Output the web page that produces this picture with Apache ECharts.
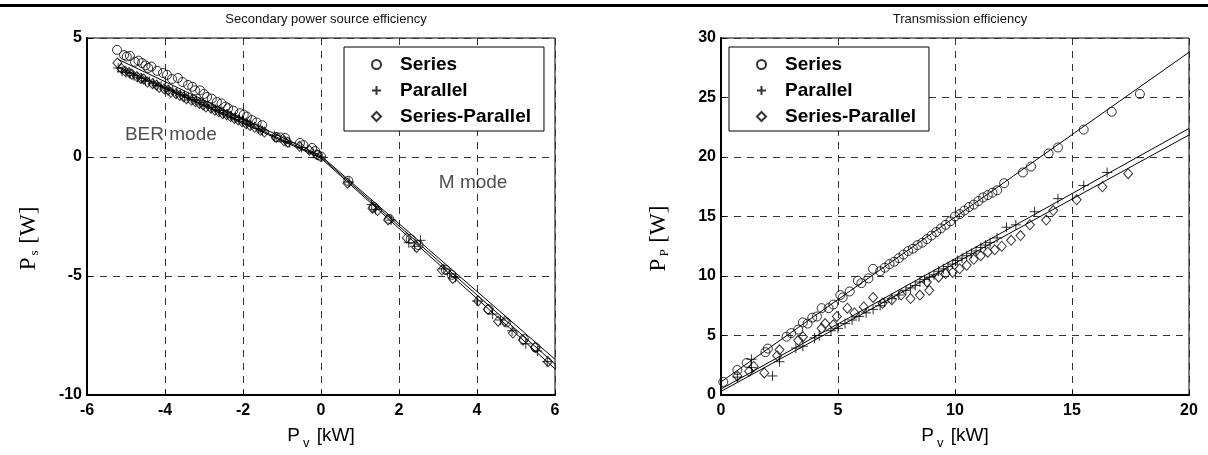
<!DOCTYPE html>
<html>
<head>
<meta charset="utf-8">
<script src="https://cdn.jsdelivr.net/npm/echarts@6/dist/echarts.min.js"></script>
<style>
  html, body { margin: 0; padding: 0; background: #fff; }
  #main { width: 1208px; height: 455px; }
</style>
</head>
<body>
<div id="main"></div>
<script>
// ---- left panel: secondary power source efficiency ----
var secSeries = [
  [-5.23,4.5],[-5.05,4.28],[-4.98,4.22],[-4.9,4.25],[-4.77,4.0],[-4.68,4.05],[-4.59,3.95],[-4.5,3.85],
  [-4.43,3.74],[-4.35,3.8],[-4.2,3.62],[-4.05,3.53],[-3.95,3.45],[-3.82,3.28],[-3.67,3.32],[-3.55,3.15],
  [-3.41,3.03],[-3.3,2.95],[-3.23,2.8],[-3.1,2.8],[-3.0,2.65],[-2.92,2.52],[-2.8,2.45],[-2.67,2.31],
  [-2.55,2.25],[-2.45,2.12],[-2.38,2.05],[-2.25,1.95],[-2.08,1.84],[-1.98,1.78],[-1.9,1.7],[-1.77,1.55],
  [-1.65,1.45],[-1.51,1.34],[-1.15,0.84],[-1.05,0.82],[-0.92,0.8],[-0.54,0.59],[-0.45,0.5],[-0.23,0.38],
  [-0.15,0.25],[-0.08,0.08],[0,0.02],
  [0.7,-1.0],[1.35,-2.1],[1.75,-2.6],[2.3,-3.45],[2.5,-3.7],[3.2,-4.75],[3.35,-4.95],[4.3,-6.4],
  [4.75,-6.95],[5.2,-7.65],[5.5,-8.0]
];
var secParallel = [
  [-5.2,3.74],[-5.1,3.6],[-5.0,3.55],[-4.9,3.5],[-4.8,3.42],[-4.7,3.35],[-4.6,3.3],[-4.5,3.2],
  [-4.4,3.18],[-4.3,3.1],[-4.2,3.0],[-4.1,2.98],[-4.0,2.9],[-3.9,2.82],[-3.8,2.78],[-3.7,2.7],
  [-3.6,2.62],[-3.5,2.58],[-3.4,2.5],[-3.3,2.42],[-3.2,2.38],[-3.1,2.3],[-3.0,2.2],[-2.9,2.15],
  [-2.8,2.08],[-2.7,2.0],[-2.6,1.95],[-2.5,1.85],[-2.4,1.8],[-2.3,1.72],[-2.2,1.65],[-2.1,1.58],
  [-2.0,1.5],[-1.9,1.42],[-1.8,1.36],[-1.6,1.2],[-1.5,1.1],[-1.2,0.9],[-0.9,0.65],[-0.8,0.6],
  [-0.5,0.4],[-0.2,0.15],[0,0],
  [0.72,-1.05],[1.3,-2.0],[1.4,-2.2],[1.8,-2.65],[2.25,-3.6],[2.4,-3.75],[2.55,-3.5],[3.15,-4.7],
  [3.3,-4.9],[3.45,-5.05],[4.0,-6.05],[4.4,-6.6],[4.6,-6.85],[4.9,-7.3],[5.25,-7.85],[5.55,-8.15],[5.8,-8.6]
];
var secSeriesParallel = [
  [-5.22,3.95],[-5.12,3.72],[-5.02,3.6],[-4.92,3.55],[-4.85,3.48],[-4.72,3.38],[-4.62,3.3],[-4.55,3.28],
  [-4.45,3.15],[-4.32,3.08],[-4.22,3.02],[-4.15,2.92],[-4.02,2.86],[-3.92,2.8],[-3.85,2.72],[-3.72,2.66],
  [-3.62,2.58],[-3.52,2.52],[-3.45,2.45],[-3.32,2.38],[-3.22,2.32],[-3.12,2.25],[-3.02,2.18],[-2.95,2.1],
  [-2.82,2.05],[-2.72,1.96],[-2.62,1.9],[-2.52,1.82],[-2.42,1.78],[-2.32,1.7],[-2.22,1.62],[-2.12,1.55],
  [-2.02,1.48],[-1.92,1.4],[-1.82,1.32],[-1.7,1.25],[-1.55,1.12],[-1.45,1.05],[-1.15,0.82],[-0.95,0.68],
  [-0.85,0.62],[-0.55,0.45],[-0.3,0.28],[-0.1,0.1],
  [0.68,-1.1],[1.32,-2.15],[1.45,-2.25],[1.72,-2.65],[2.2,-3.4],[2.45,-3.8],[3.1,-4.75],[3.38,-5.1],
  [4.03,-6.05],[4.28,-6.4],[4.54,-6.9],[4.72,-6.9],[4.92,-7.4],[5.18,-7.7],[5.49,-8.0],[5.82,-8.6]
];
// fitted lines (piecewise, knee at 0)
var secFitSeries = [[-5.2,4.1],[0,0.05],[6,-8.5]];
var secFitParallel = [[-5.2,3.8],[0,0],[6,-8.7]];
var secFitSP = [[-5.2,3.75],[0,-0.05],[6,-8.9]];
var secNotes = [
  {name: 'BER mode', value: [-3.85, 0.92]},
  {name: 'M mode', value: [3.9, -1.1]}
];

// ---- right panel: transmission efficiency ----
var trSeries = [
  [0.1,1.1],[0.7,2.1],[1.1,2.7],[1.9,3.6],[2.0,3.9],[2.8,4.9],[3.0,5.2],[3.3,5.5],[3.5,6.1],[3.7,6.0],
  [3.9,6.5],[4.1,6.6],[4.3,7.3],[4.6,7.3],[4.8,7.6],[5.1,8.4],[5.2,8.2],[5.5,8.7],[5.85,9.6],[6.0,9.4],
  [6.3,9.8],[6.5,10.6],[6.8,10.4],[7.0,10.7],[7.2,11.0],[7.4,11.2],[7.6,11.5],[7.8,11.8],[8.0,12.1],
  [8.2,12.3],[8.4,12.6],[8.6,12.8],[8.8,13.1],[9.0,13.4],[9.2,13.7],[9.4,14.0],[9.6,14.3],[9.8,14.6],
  [10.0,15.0],[10.2,15.2],[10.4,15.5],[10.6,15.8],[10.8,16.0],[11.0,16.3],[11.2,16.6],[11.4,16.8],
  [11.6,17.0],[11.8,17.2],[12.1,17.8],[12.9,18.7],[13.25,19.2],[14.0,20.3],[14.4,20.8],[15.5,22.3],
  [16.7,23.8],[17.9,25.3]
];
var trParallel = [
  [0.7,1.5],[1.3,2.3],[1.3,3.0],[2.2,1.6],[2.5,2.8],[3.2,3.95],[3.5,4.1],[4.0,4.8],[4.2,5.0],[4.7,5.4],
  [5.0,5.6],[5.3,6.0],[5.6,6.3],[5.9,6.6],[6.2,6.9],[6.5,7.2],[6.8,7.5],[7.0,7.8],[7.3,8.1],[7.6,8.4],
  [7.9,8.8],[8.1,9.0],[8.3,9.2],[8.5,9.5],[8.7,9.7],[8.9,9.9],[9.1,10.1],[9.3,10.4],[9.5,10.6],[9.7,10.8],
  [9.9,11.0],[10.1,11.3],[10.3,11.5],[10.5,11.7],[10.7,11.9],[10.9,12.1],[11.1,12.4],[11.3,12.6],
  [11.5,12.8],[11.8,13.2],[12.2,14.1],[12.6,14.3],[13.4,15.4],[14.4,16.5],[15.5,17.6],[16.5,18.7]
];
var trSeriesParallel = [
  [0.7,1.6],[1.2,2.0],[1.4,2.4],[1.85,1.85],[2.4,3.3],[2.5,3.8],[3.3,4.6],[3.5,4.9],[4.3,5.6],[4.45,6.0],
  [4.8,5.9],[4.95,6.6],[5.4,7.3],[5.7,6.9],[6.1,7.4],[6.5,8.2],[6.9,7.7],[7.3,8.0],[7.7,8.4],[8.1,8.1],
  [8.5,8.4],[8.8,9.5],[8.9,8.8],[9.3,9.9],[9.6,10.2],[9.9,10.3],[10.2,10.6],[10.5,10.9],[10.8,11.4],
  [11.1,11.7],[11.4,12.0],[11.7,12.2],[12.0,12.5],[12.4,13.0],[12.8,13.4],[13.2,14.3],[13.9,14.7],
  [14.2,15.5],[15.2,16.4],[16.3,17.5],[17.4,18.6]
];
var trFitSeries = [[0,1.1],[20,28.8]];
var trFitParallel = [[0,0.5],[20,22.4]];
var trFitSP = [[0,0.3],[20,21.85]];

var legendNames = ['Series', 'Parallel', 'Series-Parallel'];
var plusPath = 'path://M5,0L5,10M0,5L10,5';

var chart = echarts.init(document.getElementById('main'));

var sans = 'Liberation Sans, Arial, sans-serif';
var serif = 'Liberation Serif, Times New Roman, serif';

function markStyle() {
  return { color: 'rgba(0,0,0,0)', borderColor: '#000', borderWidth: 1 };
}

function scatter(name, data, idx, symbol, size) {
  return {
    type: 'scatter', name: name, data: data,
    xAxisIndex: idx, yAxisIndex: idx,
    symbol: symbol, symbolSize: size,
    itemStyle: markStyle(),
    emphasis: { disabled: true },
    silent: true, z: 3
  };
}

function fit(data, idx) {
  return {
    type: 'line', data: data, xAxisIndex: idx, yAxisIndex: idx,
    showSymbol: false, silent: true, z: 2,
    lineStyle: { color: '#000', width: 1 }
  };
}

function xAxis(idx, min, max, interval) {
  return {
    type: 'value', gridIndex: idx, min: min, max: max, interval: interval,
    axisLine: { onZero: false, lineStyle: { color: '#000', width: 2 } },
    axisTick: { inside: true, length: 5, lineStyle: { color: '#000' } },
    axisLabel: { color: '#000', fontFamily: sans, fontWeight: 'bold', fontSize: 16, margin: 8 },
    splitLine: { lineStyle: { color: '#333', type: [7, 6], width: 1 } },
    name: '{a|P}{s|v}{a| [kW]}', nameLocation: 'middle', nameGap: 26,
    nameTextStyle: {
      rich: {
        a: { fontFamily: sans, fontSize: 19, color: '#000' },
        s: { fontFamily: sans, fontSize: 13, color: '#000', padding: [16, 2, 0, 3] }
      }
    }
  };
}

function yAxis(idx, min, max, interval, sub, gap) {
  return {
    type: 'value', gridIndex: idx, min: min, max: max, interval: interval,
    axisLine: { onZero: false, lineStyle: { color: '#000', width: 2 } },
    axisTick: { inside: true, length: 5, lineStyle: { color: '#000' } },
    axisLabel: { color: '#000', fontFamily: sans, fontWeight: 'bold', fontSize: 16, margin: 5 },
    splitLine: { lineStyle: { color: '#333', type: [7, 6], width: 1 } },
    name: '{a|P}{s|' + sub + '}{a| [W]}', nameLocation: 'middle', nameGap: gap,
    nameTextStyle: {
      padding: [0, 44, 0, 0],
      rich: {
        a: { fontFamily: serif, fontSize: 23, color: '#000' },
        s: { fontFamily: serif, fontSize: 13, color: '#000', padding: [12, 1, 0, 2] }
      }
    }
  };
}

function legend(left) {
  return {
    left: left, top: 47, orient: 'vertical', selectedMode: false,
    backgroundColor: '#fff', borderColor: '#000', borderWidth: 1,
    padding: [8, 13, 5, 27], itemGap: 7, itemWidth: 9, itemHeight: 9,
    data: [
      { name: legendNames[0], icon: 'circle' },
      { name: legendNames[1], icon: plusPath },
      { name: legendNames[2], icon: 'diamond' }
    ],
    textStyle: { fontFamily: sans, fontWeight: 'bold', fontSize: 19, color: '#000', padding: [0, 0, 0, 14], lineHeight: 18 }
  };
}

var option = {
  backgroundColor: '#fff',
  animation: false,
  title: [
    { text: 'Secondary power source efficiency', left: 321, top: 8, textAlign: 'center',
      textStyle: { fontFamily: sans, fontWeight: 'normal', fontSize: 13, color: '#111' } },
    { text: 'Transmission efficiency', left: 955, top: 8, textAlign: 'center',
      textStyle: { fontFamily: sans, fontWeight: 'normal', fontSize: 13, color: '#111' } }
  ],
  graphic: [
    { type: 'rect', left: 0, top: 4, shape: { width: 1208, height: 3 }, style: { fill: '#000' } }
  ],
  grid: [
    { left: 87, top: 38, width: 468, height: 357, show: true, borderColor: '#000', borderWidth: 1 },
    { left: 721, top: 38, width: 468, height: 357, show: true, borderColor: '#000', borderWidth: 1 }
  ],
  xAxis: [ xAxis(0, -6, 6, 2), xAxis(1, 0, 20, 5) ],
  yAxis: [ yAxis(0, -10, 5, 5, 's', 46), yAxis(1, 0, 30, 5, 'P', 50) ],
  legend: [ legend(344), legend(729) ],
  series: [
    fit(secFitSeries, 0), fit(secFitParallel, 0), fit(secFitSP, 0),
    scatter(legendNames[0], secSeries, 0, 'circle', 9),
    scatter(legendNames[1], secParallel, 0, plusPath, 10),
    scatter(legendNames[2], secSeriesParallel, 0, 'diamond', [9, 10]),
    {
      type: 'scatter', data: secNotes, xAxisIndex: 0, yAxisIndex: 0,
      symbolSize: 0, silent: true,
      label: { show: true, position: 'inside', formatter: '{b}',
        fontFamily: sans, fontSize: 19, color: '#222' }
    },
    fit(trFitSeries, 1), fit(trFitParallel, 1), fit(trFitSP, 1),
    scatter(legendNames[0], trSeries, 1, 'circle', 9),
    scatter(legendNames[1], trParallel, 1, plusPath, 10),
    scatter(legendNames[2], trSeriesParallel, 1, 'diamond', [9, 10])
  ]
};

chart.setOption(option);
</script>
</body>
</html>
